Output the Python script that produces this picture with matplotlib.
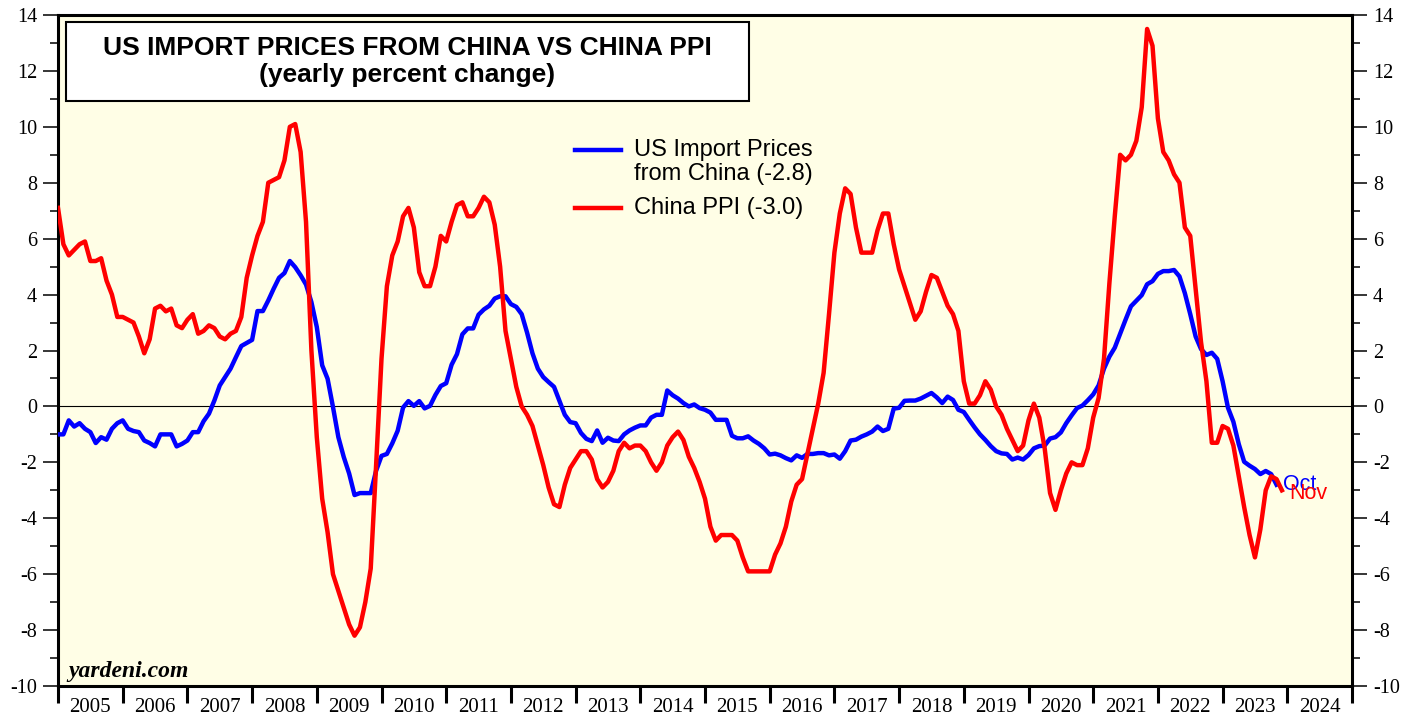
import numpy as np
import matplotlib
matplotlib.use('Agg')
import matplotlib.pyplot as plt
from matplotlib.patches import Rectangle
from matplotlib.ticker import MultipleLocator

plt.rcParams['font.family'] = 'Liberation Serif'
plt.rcParams['axes.unicode_minus'] = False

# China PPI, yearly % change, Dec 2004 .. Nov 2023
ppi = [7.1,
       5.8, 5.4, 5.6, 5.8, 5.9, 5.2, 5.2, 5.3, 4.5, 4.0, 3.2, 3.2,
       3.1, 3.0, 2.5, 1.9, 2.4, 3.5, 3.6, 3.4, 3.5, 2.9, 2.8, 3.1,
       3.3, 2.6, 2.7, 2.9, 2.8, 2.5, 2.4, 2.6, 2.7, 3.2, 4.6, 5.4,
       6.1, 6.6, 8.0, 8.1, 8.2, 8.8, 10.0, 10.1, 9.1, 6.6, 2.0, -1.1,
       -3.3, -4.5, -6.0, -6.6, -7.2, -7.8, -8.2, -7.9, -7.0, -5.8, -2.1, 1.7,
       4.3, 5.4, 5.9, 6.8, 7.1, 6.4, 4.8, 4.3, 4.3, 5.0, 6.1, 5.9,
       6.6, 7.2, 7.3, 6.8, 6.8, 7.1, 7.5, 7.3, 6.5, 5.0, 2.7, 1.7,
       0.7, 0.0, -0.3, -0.7, -1.4, -2.1, -2.9, -3.5, -3.6, -2.8, -2.2, -1.9,
       -1.6, -1.6, -1.9, -2.6, -2.9, -2.7, -2.3, -1.6, -1.3, -1.5, -1.4, -1.4,
       -1.6, -2.0, -2.3, -2.0, -1.4, -1.1, -0.9, -1.2, -1.8, -2.2, -2.7, -3.3,
       -4.3, -4.8, -4.6, -4.6, -4.6, -4.8, -5.4, -5.9, -5.9, -5.9, -5.9, -5.9,
       -5.3, -4.9, -4.3, -3.4, -2.8, -2.6, -1.7, -0.8, 0.1, 1.2, 3.3, 5.5,
       6.9, 7.8, 7.6, 6.4, 5.5, 5.5, 5.5, 6.3, 6.9, 6.9, 5.8, 4.9,
       4.3, 3.7, 3.1, 3.4, 4.1, 4.7, 4.6, 4.1, 3.6, 3.3, 2.7, 0.9,
       0.1, 0.1, 0.4, 0.9, 0.6, 0.0, -0.3, -0.8, -1.2, -1.6, -1.4, -0.5,
       0.1, -0.4, -1.5, -3.1, -3.7, -3.0, -2.4, -2.0, -2.1, -2.1, -1.5, -0.4,
       0.3, 1.7, 4.4, 6.8, 9.0, 8.8, 9.0, 9.5, 10.7, 13.5, 12.9, 10.3,
       9.1, 8.8, 8.3, 8.0, 6.4, 6.1, 4.2, 2.3, 0.9, -1.3, -1.3, -0.7,
       -0.8, -1.4, -2.5, -3.6, -4.6, -5.4, -4.4, -3.0, -2.5, -2.6, -3.0]

# US import prices from China, yearly % change, Dec 2004 .. Oct 2023
imports = [-1.0,
           -1.0, -0.5, -0.72, -0.6, -0.8, -0.92, -1.31, -1.1, -1.19, -0.8, -0.6, -0.5,
           -0.8, -0.88, -0.92, -1.22, -1.31, -1.43, -1.0, -1.0, -1.0, -1.43, -1.34, -1.22,
           -0.92, -0.92, -0.53, -0.26, 0.21, 0.75, 1.05, 1.35, 1.76, 2.16, 2.27, 2.38,
           3.41, 3.41, 3.79, 4.21, 4.6, 4.77, 5.2, 4.98, 4.69, 4.36, 3.73, 2.84,
           1.47, 0.99, -0.02, -1.1, -1.81, -2.4, -3.17, -3.1, -3.1, -3.1, -2.3, -1.77,
           -1.7, -1.32, -0.87, -0.04, 0.19, 0.02, 0.19, -0.07, 0.02, 0.41, 0.73, 0.83,
           1.49, 1.87, 2.58, 2.79, 2.79, 3.28, 3.47, 3.6, 3.86, 3.94, 3.94, 3.66,
           3.56, 3.3, 2.64, 1.9, 1.35, 1.05, 0.87, 0.7, 0.2, -0.3, -0.56, -0.6,
           -0.95, -1.16, -1.24, -0.86, -1.3, -1.12, -1.22, -1.24, -1.0, -0.86, -0.76, -0.68,
           -0.68, -0.4, -0.3, -0.3, 0.57, 0.4, 0.28, 0.12, 0.0, 0.07, -0.06, -0.12,
           -0.22, -0.48, -0.48, -0.48, -1.05, -1.14, -1.14, -1.07, -1.22, -1.34, -1.5, -1.72,
           -1.69, -1.75, -1.85, -1.93, -1.75, -1.84, -1.7, -1.7, -1.67, -1.67, -1.75, -1.72,
           -1.87, -1.6, -1.22, -1.19, -1.08, -1.0, -0.9, -0.72, -0.88, -0.8, -0.08, -0.05,
           0.2, 0.21, 0.21, 0.28, 0.38, 0.48, 0.32, 0.12, 0.35, 0.23, -0.12, -0.2,
           -0.48, -0.75, -1.0, -1.2, -1.42, -1.6, -1.68, -1.7, -1.9, -1.83, -1.9, -1.74,
           -1.5, -1.42, -1.4, -1.15, -1.1, -0.93, -0.6, -0.32, -0.06, 0.03, 0.22, 0.43,
           0.75, 1.35, 1.78, 2.1, 2.6, 3.1, 3.58, 3.78, 3.98, 4.37, 4.48, 4.74,
           4.84, 4.84, 4.88, 4.65, 4.05, 3.3, 2.5, 2.05, 1.84, 1.92, 1.7, 0.9,
           -0.05, -0.55, -1.35, -1.98, -2.12, -2.24, -2.42, -2.31, -2.42, -2.8]

years = list(range(2005, 2025))

x_ppi = 2005 + np.arange(len(ppi)) / 12
x_imp = 2005 + np.arange(len(imports)) / 12

fig = plt.figure(figsize=(14.21, 7.17), dpi=100)
ax = fig.add_axes([58 / 1421, 31 / 717, 1294 / 1421, 671 / 717])
ax.set_facecolor('#fffee6')

ax.axhline(0, color='black', lw=0.8, zorder=1)
ax.plot(x_imp, imports, color='#0000ff', lw=3.2, zorder=3)
ax.plot(x_ppi, ppi, color='#ff0000', lw=3.2, zorder=3)

ax.set_xlim(2005, 2025)
ax.set_ylim(-10, 14)

# x axis: ticks at year boundaries, labels centered on the year
ax.set_xticks(range(2005, 2026))
ax.set_xticks([y + 0.5 for y in years], minor=True)
ax.set_xticklabels([str(y) for y in years], minor=True)
ax.tick_params(axis='x', which='major', direction='out', length=12, width=2.2,
               labelbottom=False)
ax.tick_params(axis='x', which='minor', length=0, pad=9, labelsize=15)

ax.yaxis.set_major_locator(MultipleLocator(2))
ax.yaxis.set_minor_locator(MultipleLocator(1))
ax.tick_params(axis='y', which='major', direction='out', length=11, width=1.1,
               labelsize=14.5, pad=4, right=True, labelright=True)
ax.tick_params(axis='y', which='minor', direction='out', length=6, width=1.1,
               right=True)

for s in ax.spines.values():
    s.set_linewidth(2.2)

# title box
ax.add_patch(Rectangle((0.0062, 0.8718), 0.5278, 0.1178, transform=ax.transAxes,
                       facecolor='white', edgecolor='black', lw=1.5, zorder=5))
ax.text(0.270, 0.9508, 'US IMPORT PRICES FROM CHINA VS CHINA PPI',
        transform=ax.transAxes, ha='center', va='center', fontsize=19,
        fontweight='bold', family='Liberation Sans', zorder=6)
ax.text(0.270, 0.9106, '(yearly percent change)', transform=ax.transAxes,
        ha='center', va='center', fontsize=19, fontweight='bold',
        family='Liberation Sans', zorder=6)

# legend
ax.plot([0.3995, 0.4351], [0.7988, 0.7988], color='#0000ff', lw=3.2,
        transform=ax.transAxes)
ax.plot([0.3995, 0.4351], [0.7124, 0.7124], color='#ff0000', lw=3.2,
        transform=ax.transAxes)
ax.text(0.4451, 0.7988, 'US Import Prices', transform=ax.transAxes,
        va='center', fontsize=17, family='Liberation Sans')
ax.text(0.4451, 0.7630, 'from China (-2.8)', transform=ax.transAxes,
        va='center', fontsize=17, family='Liberation Sans')
ax.text(0.4451, 0.7124, 'China PPI (-3.0)', transform=ax.transAxes,
        va='center', fontsize=17, family='Liberation Sans')

# end labels
ax.annotate('Oct', (x_imp[-1], imports[-1]), xytext=(5, 0),
            textcoords='offset points', va='center', fontsize=15.5,
            color='#0000ff', family='Liberation Sans', zorder=4)
ax.annotate('Nov', (x_ppi[-1], ppi[-1]), xytext=(5, -2),
            textcoords='offset points', va='center', fontsize=15.5,
            color='#ff0000', family='Liberation Sans', zorder=4)

ax.text(0.0077, 0.0209, 'yardeni.com', transform=ax.transAxes, va='center',
        fontsize=17, fontweight='bold', fontstyle='italic')

fig.savefig('out.png', dpi=100)
